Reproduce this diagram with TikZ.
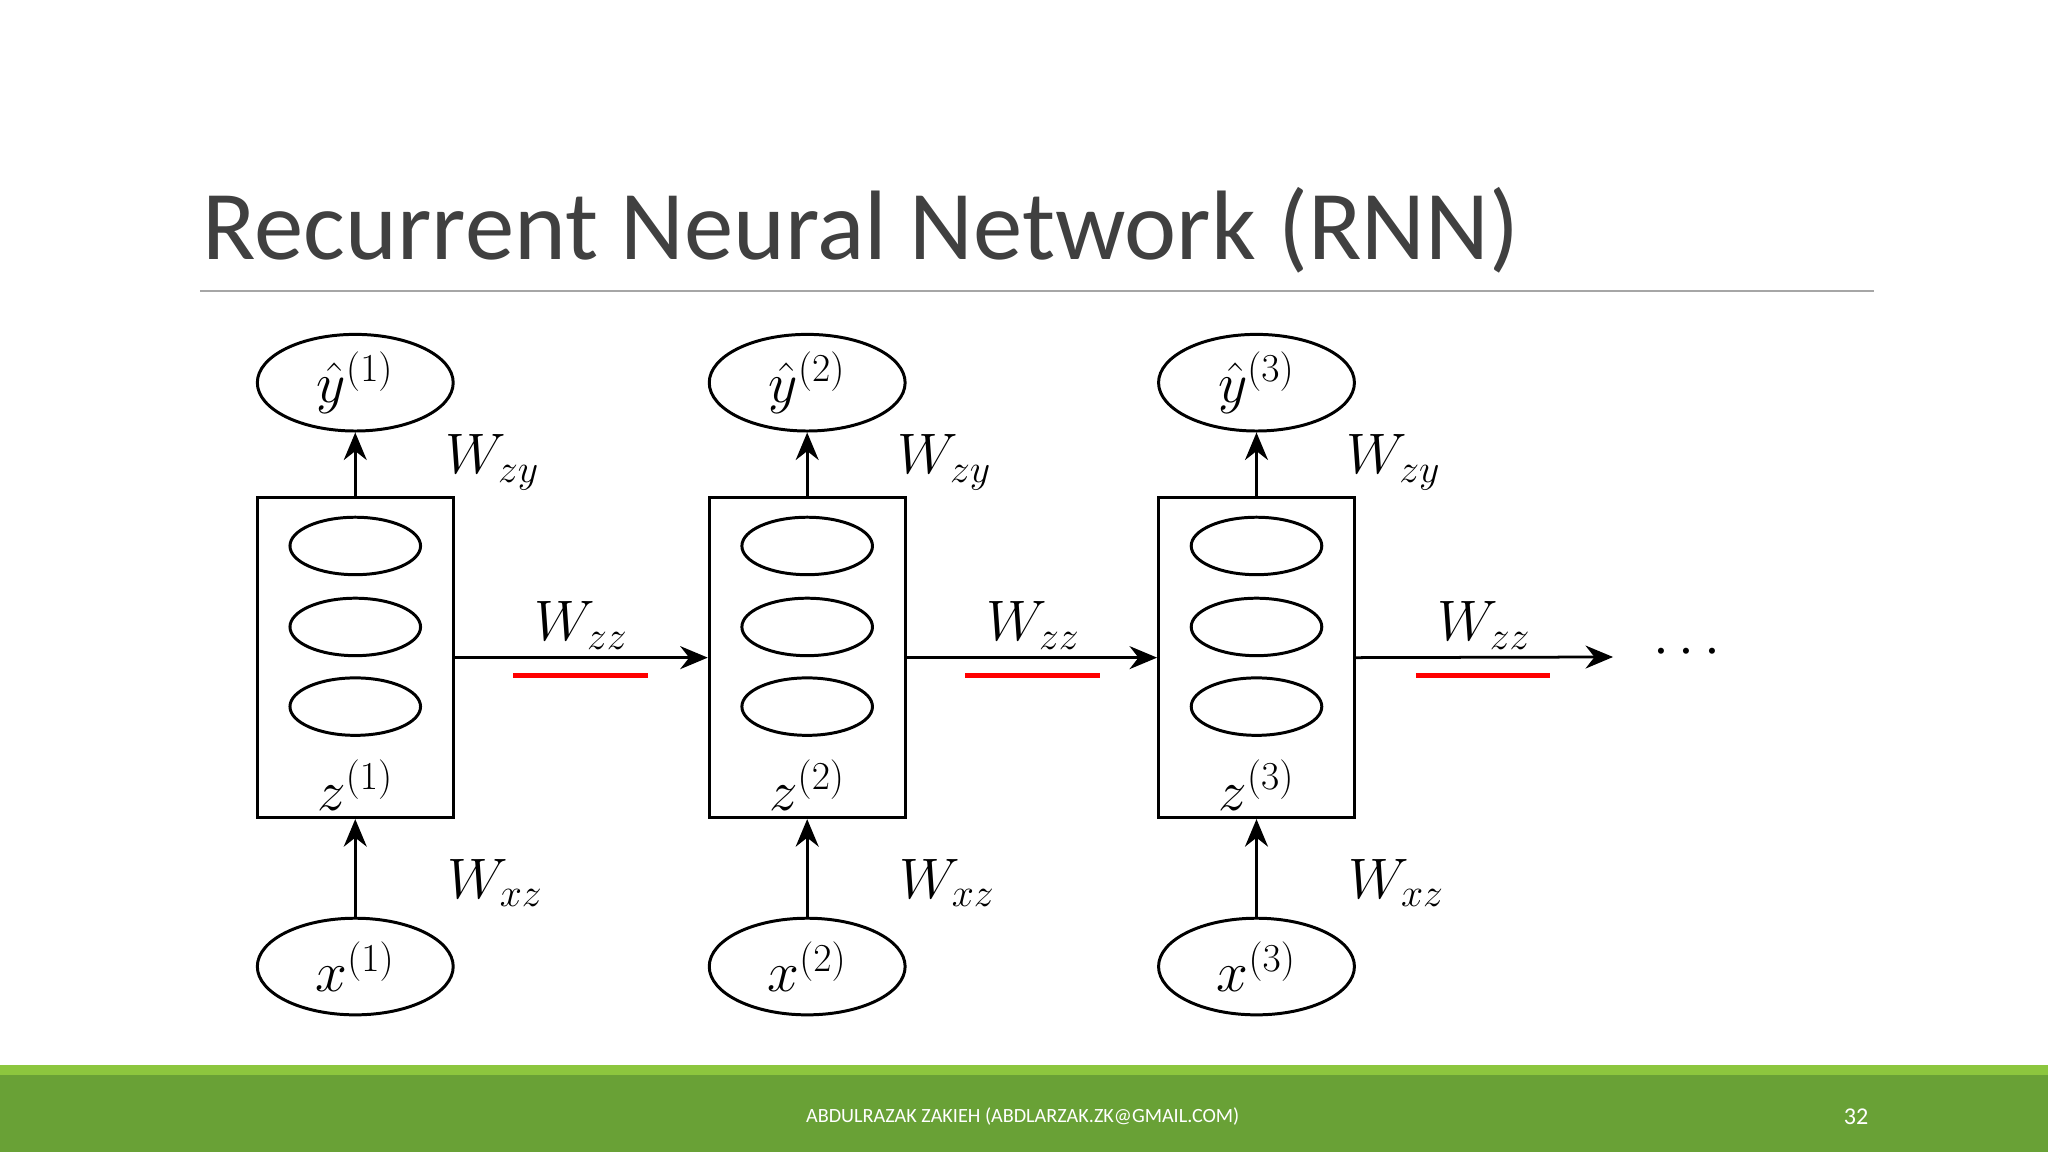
\documentclass[tikz,border=0pt]{standalone}
\usepackage{fontspec}
\setmainfont{Carlito}
\usepackage{amsmath}
\usetikzlibrary{arrows.meta,shapes.geometric}
\definecolor{lgreen}{HTML}{8CC63E}
\definecolor{dgreen}{HTML}{69A136}
\definecolor{titlec}{HTML}{404040}
\begin{document}
\begin{tikzpicture}[x=0.02cm,y=-0.02cm,
  box/.style={draw,line width=1.3pt,minimum width=3cm,minimum height=4.9cm,inner sep=0},
  unit/.style={draw,ellipse,line width=1.3pt,minimum width=2cm,minimum height=0.88cm},
  io/.style={draw,ellipse,line width=1.3pt,minimum width=3cm,minimum height=1.48cm,inner sep=0,font=\fontsize{24}{28}\selectfont},
  lab/.style={font=\fontsize{24}{28}\selectfont,inner sep=0},
  arr/.style={-{Stealth[length=12pt,width=10pt]},line width=1.2pt},
  red/.style={draw=red,line width=2pt}]
\useasboundingbox (0,0) rectangle (1568,882);
\fill[lgreen] (0,815) rectangle (1568,823);
\fill[dgreen] (0,823) rectangle (1568,882);
\node[anchor=base west,text=titlec,font=\fontsize{43}{50}\selectfont,inner sep=0] (title) at (155,199) {Recurrent Neural Network (RNN)};
\draw[gray!70,line width=0.8pt] (153,223) -- (1435,223);
\node[text=white,font=\fontsize{8.8}{11}\selectfont] (foot) at (783,855) {ABDULRAZAK ZAKIEH (ABDLARZAK.ZK@GMAIL.COM)};
\node[text=white,font=\fontsize{10.5}{13}\selectfont] (pg) at (1421,855) {32};
\foreach \i/\x in {1/272,2/618,3/962}{
  \node[box] (b\i) at (\x,503.5) {};
  \node[unit] (u\i a) at (\x,418) {};
  \node[unit] (u\i b) at (\x,480) {};
  \node[unit] (u\i c) at (\x,541) {};
  \node[lab] (z\i) at (\x,601) {$z^{(\i)}$};
  \node[io] (y\i) at (\x,293) {$\hat{y}^{(\i)}$};
  \node[io] (x\i) at (\x,740) {$x^{(\i)}$};
  \draw[arr] (b\i.north) -- (y\i.south);
  \draw[arr] (x\i.north) -- (b\i.south);
  \node[lab] (wzy\i) at (\x+105,354) {$W_{zy}$};
  \node[lab] (wxz\i) at (\x+107,676) {$W_{xz}$};
}
\coordinate (end) at (1235,503);
\node[lab] (dots) at (1295,500) {$\cdots$};
\draw[arr] (b1.east) -- (b2.west);
\draw[arr] (b2.east) -- (b3.west);
\draw[arr] (b3.east) -- (end);
\foreach \i/\x in {1/445,2/791,3/1136}{
  \node[lab] (wzz\i) at (\x,479) {$W_{zz}$};
  \draw[red] (\x-52,517) -- (\x+51,517);
}
\end{tikzpicture}
\end{document}
